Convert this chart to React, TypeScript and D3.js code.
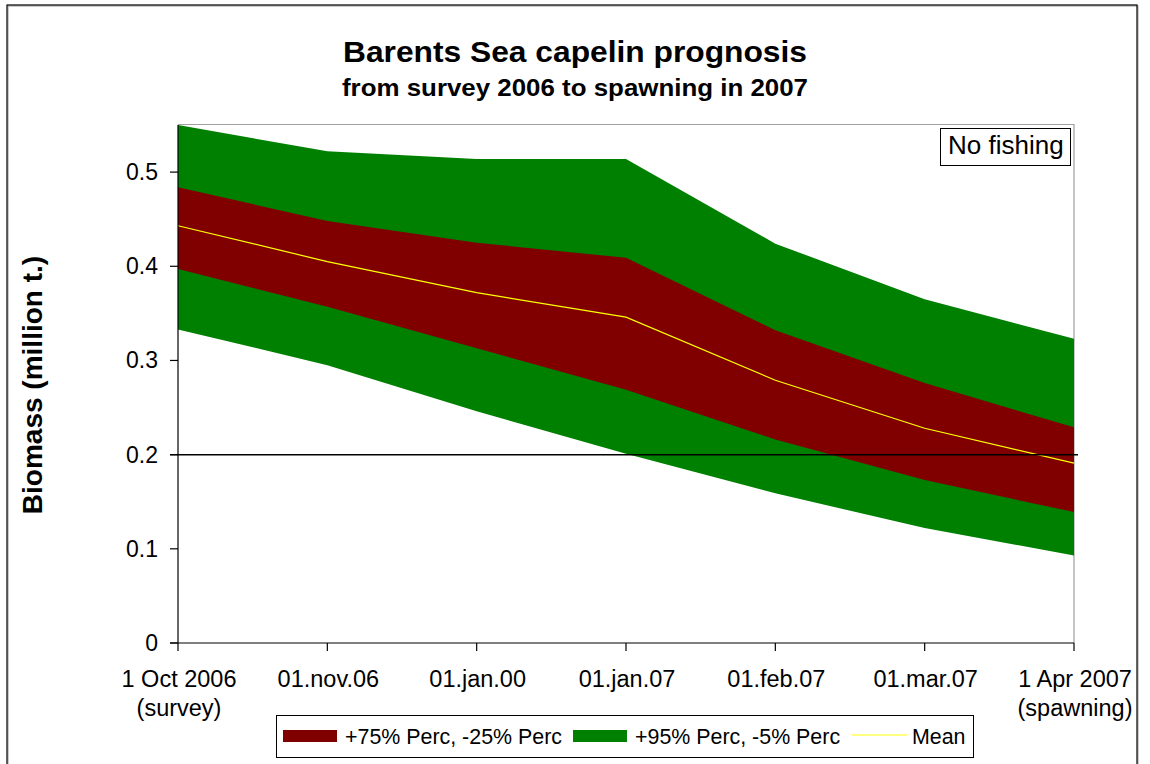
import React from "react";
import * as d3 from "d3";

const categories = ["1 Oct 2006|(survey)", "01.nov.06", "01.jan.00", "01.jan.07", "01.feb.07", "01.mar.07", "1 Apr 2007|(spawning)"];
const p95 = [0.55, 0.522, 0.514, 0.514, 0.424, 0.365, 0.323];
const p75 = [0.484, 0.448, 0.425, 0.409, 0.332, 0.276, 0.229];
const meanVals = [0.443, 0.405, 0.372, 0.346, 0.279, 0.228, 0.191];
const p25 = [0.397, 0.357, 0.313, 0.269, 0.216, 0.173, 0.139];
const p05 = [0.333, 0.295, 0.246, 0.201, 0.159, 0.122, 0.093];
const yTicks = [0, 0.1, 0.2, 0.3, 0.4, 0.5];
const refLevel = 0.2;
const legendItems = ["+75% Perc, -25% Perc", "+95% Perc, -5% Perc", "Mean"];

const FONT = "'Liberation Sans', Arial, sans-serif";
const GREEN = "#008000";
const RED = "#800000";
const YELLOW = "#ffff00";

export default function App() {
  const L = 178, R = 1074, T = 125, B = 643;
  const x = d3.scalePoint<string>().domain(categories).range([L, R]).padding(0);
  const y = d3.scaleLinear().domain([0, 0.55]).range([B, T]);
  const idx = categories.map((_, i) => i);
  const band = (lo: number[], hi: number[]) =>
    d3.area<number>().x((i) => x(categories[i])!).y0((i) => y(lo[i])).y1((i) => y(hi[i]))(idx)!;
  const meanLine = d3.line<number>().x((i) => x(categories[i])!).y((i) => y(meanVals[i]))(idx)!;

  return (
    <svg width={1150} height={764} style={{ position: "absolute", left: 0, top: 0, background: "#fff" }} fontFamily={FONT}>
      <rect x={0} y={0} width={1150} height={764} fill="#fff" />
      {/* outer frame shadow + frame */}
      <rect x={8} y={6} width={1130} height={800} fill="none" stroke="#999" strokeWidth={1} />
      <rect x={7} y={5} width={1130} height={800} fill="none" stroke="#000" strokeWidth={1.2} />

      {/* title */}
      <text x={575} y={62} textAnchor="middle" fontSize={30} fontWeight="bold" textLength={464} lengthAdjust="spacingAndGlyphs">Barents Sea capelin prognosis</text>
      <text x={575} y={96} textAnchor="middle" fontSize={24} fontWeight="bold" textLength={466} lengthAdjust="spacingAndGlyphs">from survey 2006 to spawning in 2007</text>

      {/* plot border (top/right gray) */}
      <path d={`M${L},${T - 0.5}H${R}V${B}`} fill="none" stroke="#a0a0a0" strokeWidth={1.2} />

      {/* bands */}
      <path d={band(p05, p95)} fill={GREEN} />
      <path d={band(p25, p75)} fill={RED} />
      <path d={meanLine} fill="none" stroke={YELLOW} strokeWidth={1.2} />

      {/* reference line */}
      <line x1={L - 8} x2={R + 4} y1={y(refLevel)} y2={y(refLevel)} stroke="#000" strokeWidth={1.5} />

      {/* axes */}
      <line x1={L} x2={L} y1={T} y2={B} stroke="#000" strokeWidth={1.2} />
      <line x1={L - 8} x2={R} y1={B} y2={B} stroke="#000" strokeWidth={1.2} />
      {yTicks.map((t) => (
        <g key={t}>
          <line x1={L - 8} x2={L} y1={y(t)} y2={y(t)} stroke="#000" strokeWidth={1.2} />
          <text x={158} y={y(t) + 8} textAnchor="end" fontSize={23}>{t === 0 ? "0" : t.toFixed(1)}</text>
        </g>
      ))}
      {categories.map((c) => {
        const parts = c.split("|");
        const cx = x(c)!;
        return (
          <g key={c}>
            <line x1={cx} x2={cx} y1={B} y2={B + 8} stroke="#000" strokeWidth={1.2} />
            {parts.map((p, k) => (
              <text key={k} x={cx + 1} y={687 + k * 29} textAnchor="middle" fontSize={23.5}>{p}</text>
            ))}
          </g>
        );
      })}

      {/* y axis title */}
      <text transform={`translate(42,385) rotate(-90)`} textAnchor="middle" fontSize={28} fontWeight="bold">Biomass (million t.)</text>

      {/* No fishing box */}
      <rect x={940.5} y={128.5} width={130} height={37} fill="#fff" stroke="#000" strokeWidth={1} />
      <text x={948} y={154} fontSize={26}>No fishing</text>

      {/* legend */}
      <rect x={276.5} y={715.5} width={697} height={42} fill="#fff" stroke="#000" strokeWidth={1} />
      <rect x={283} y={730} width={54} height={12} fill={RED} />
      <text x={345} y={744} fontSize={21.4}>{legendItems[0]}</text>
      <rect x={573} y={730} width={54} height={12} fill={GREEN} />
      <text x={635} y={744} fontSize={21.4}>{legendItems[1]}</text>
      <line x1={852} x2={907} y1={735} y2={735} stroke={YELLOW} strokeWidth={1} />
      <text x={912} y={744} fontSize={21.4}>{legendItems[2]}</text>
    </svg>
  );
}
